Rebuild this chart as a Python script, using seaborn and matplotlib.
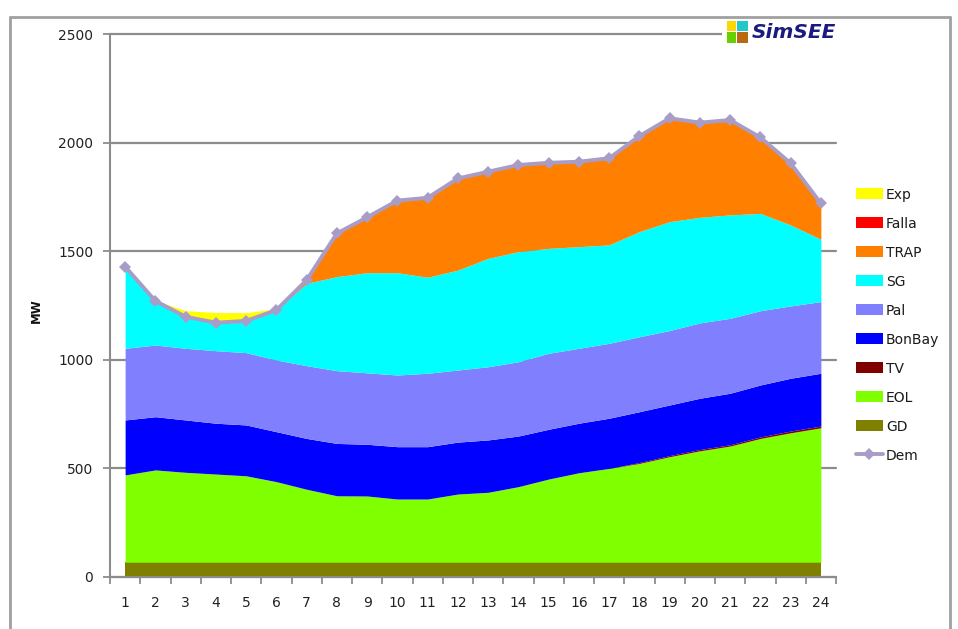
import matplotlib
matplotlib.use("Agg")
import matplotlib.pyplot as plt
import numpy as np
import pandas as pd
import seaborn as sns
from matplotlib.lines import Line2D
from matplotlib.patches import Rectangle

# hourly dispatch (MW)
hours = [1, 2, 3, 4, 5, 6, 7, 8, 9, 10, 11, 12,
         13, 14, 15, 16, 17, 18, 19, 20, 21, 22, 23, 24]
gd = [68, 68, 68, 68, 68, 68, 68, 68, 68, 68, 68, 68,
      68, 68, 68, 68, 68, 68, 68, 68, 68, 68, 68, 68]
eol = [402, 425, 414, 406, 398, 371, 336, 306, 305, 291, 291, 314,
       322, 348, 383, 412, 432, 455, 486, 513, 535, 570, 596, 619]
tv = [0, 0, 0, 0, 0, 0, 0, 0, 0, 0, 0, 0,
      0, 0, 0, 0, 0, 4, 5, 6, 6, 7, 8, 8]
bonbay = [253, 245, 241, 234, 234, 230, 234, 241, 238, 241, 241, 239,
          241, 233, 229, 228, 231, 234, 233, 236, 237, 239, 243, 243]
pal = [330, 330, 330, 334, 333, 330, 335, 335, 329, 330, 338, 332,
       337, 342, 350, 345, 345, 345, 343, 347, 345, 342, 333, 330]
sg = [376, 203, 145, 129, 146, 230, 379, 433, 461, 471, 442, 460,
      499, 507, 483, 468, 453, 484, 501, 486, 476, 448, 373, 287]
trap = [0, 0, 0, 0, 0, 0, 15, 199, 255, 332, 366, 422,
        399, 399, 394, 391, 399, 440, 476, 436, 437, 350, 284, 165]
falla = [0, 0, 0, 0, 0, 0, 0, 0, 0, 0, 0, 0,
         0, 0, 0, 0, 0, 0, 0, 0, 0, 0, 0, 0]
exp_ = [0, 2, 28, 47, 38, 6, 0, 0, 0, 0, 0, 0,
        0, 0, 0, 0, 0, 0, 0, 0, 0, 0, 0, 0]
dem = [1429, 1271, 1198, 1171, 1179, 1229, 1367, 1582, 1656, 1733, 1746, 1835,
       1866, 1897, 1907, 1912, 1928, 2030, 2112, 2092, 2104, 2024, 1905, 1720]

layers = [
    ("GD", gd, "#808000"),
    ("EOL", eol, "#80FF00"),
    ("TV", tv, "#800000"),
    ("BonBay", bonbay, "#0000FF"),
    ("Pal", pal, "#8080FF"),
    ("SG", sg, "#00FFFF"),
    ("TRAP", trap, "#FF8000"),
    ("Falla", falla, "#FF0000"),
    ("Exp", exp_, "#FFFF00"),
]
legend_order = ["Exp", "Falla", "TRAP", "SG", "Pal", "BonBay", "TV", "EOL", "GD", "Dem"]

sns.set_theme(style="white")
plt.rcParams["font.family"] = ["DejaVu Sans"]

fig = plt.figure(figsize=(9.58, 6.29), dpi=100)
ax = fig.add_axes([110 / 958, 1 - 577 / 629, 726 / 958, 543 / 629])

ax.stackplot(hours, *[v for _, v, _ in layers],
             labels=[n for n, _, _ in layers],
             colors=[c for _, _, c in layers], linewidth=0)

df = pd.DataFrame({"Hora": hours, "Dem": dem})
sns.lineplot(data=df, x="Hora", y="Dem", ax=ax, color="#A99CC6", lw=2.8,
             marker="D", markersize=6.5, markeredgewidth=0, label="Dem")

ax.set_xlim(0.5, 24.5)
ax.set_ylim(0, 2500)
ax.set_yticks([0, 500, 1000, 1500, 2000, 2500])
ax.yaxis.grid(True, color="#8c8c8c", lw=1.6)
ax.xaxis.grid(False)
ax.set_axisbelow(True)
for gl in ax.get_ygridlines():
    gl.set_clip_on(False)

ax.set_xticks(np.arange(0.5, 25, 1))
ax.set_xticks(hours, minor=True)
ax.set_xticklabels([str(h) for h in hours], minor=True)
ax.tick_params(axis="x", which="major", bottom=True, length=5, width=1.3,
               color="#8c8c8c", labelbottom=False, direction="out")
ax.tick_params(axis="x", which="minor", bottom=True, length=0, pad=14,
               labelsize=10, labelcolor="#222222")
ax.tick_params(axis="y", left=True, length=5, width=1.3, color="#8c8c8c",
               pad=7, labelsize=10, labelcolor="#222222", direction="out")
ax.set_xlabel("")
ax.set_ylabel("MW", fontsize=8.5, fontweight="bold", color="#111111")
ax.yaxis.set_label_coords(-0.092, 0.49)

for s in ["top", "right"]:
    ax.spines[s].set_visible(False)
for s in ["left", "bottom"]:
    ax.spines[s].set_color("#8c8c8c")
    ax.spines[s].set_linewidth(1.5)

handles, labels = ax.get_legend_handles_labels()
lookup = dict(zip(labels, handles))
if ax.get_legend():
    ax.get_legend().remove()
fig.legend([lookup[n] for n in legend_order], legend_order,
           loc="upper left", bbox_to_anchor=(850 / 958, 1 - 182 / 629),
           frameon=False, fontsize=10, labelspacing=1.08, handlelength=2.0,
           handleheight=0.8, handletextpad=0.2, borderaxespad=0,
           labelcolor="#1a1a1a")

# outer frame
fx0, fx1, fy1 = 10 / 958, 950 / 958, 1 - 17 / 629
for xs, ys in [([fx0, fx0], [0, fy1]), ([fx0, fx1], [fy1, fy1]), ([fx1, fx1], [0, fy1])]:
    fig.add_artist(Line2D(xs, ys, transform=fig.transFigure, color="#a0a0a0", lw=2))

# SimSEE logo
def fr(x, y, w, h, c):
    fig.add_artist(Rectangle((x / 958, 1 - (y + h) / 629), w / 958, h / 629,
                             transform=fig.transFigure, facecolor=c, edgecolor="none"))

fr(722, 19, 122, 28, "white")
fr(727, 21, 9, 10, "#FFD700")
fr(737, 21, 11, 10, "#20C8C8")
fr(727, 32, 9, 11, "#66D000")
fr(737, 32, 11, 11, "#B86A10")
fig.text(752 / 958, 1 - 32 / 629, "SimSEE", fontsize=14.5, fontweight="bold",
         fontstyle="italic", color="#1a1a80", ha="left", va="center")

fig.savefig("out.png", dpi=100)
